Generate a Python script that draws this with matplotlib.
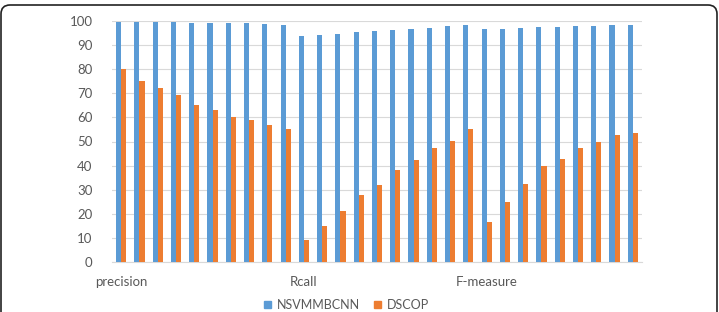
import numpy as np
import matplotlib
matplotlib.use('Agg')
import matplotlib.pyplot as plt
from matplotlib.patches import FancyBboxPatch, Patch
from matplotlib.transforms import IdentityTransform

plt.rcParams['font.family'] = ['Lato', 'DejaVu Sans']

# group labels, only every 10th category gets a label
groups = ['precision', 'Rcall', 'F-measure']
group_start = [0, 10, 20]

nsvmmbcnn = [99.5, 99.5, 99.4, 99.4, 99.3, 99.2, 99.1, 99.0, 98.9, 98.3,
             93.6, 94.1, 94.7, 95.3, 95.8, 96.2, 96.8, 97.3, 97.8, 98.3,
             96.5, 96.8, 97.0, 97.4, 97.5, 97.8, 97.9, 98.2, 98.5]
dscop = [80, 75.2, 72.2, 69.1, 65, 63, 60, 59, 57, 55,
         9, 15, 21, 28, 32, 38, 42.2, 47.2, 50.3, 55.1,
         16.4, 25.1, 32.5, 40, 42.9, 47.5, 49.6, 52.5, 53.5]

blue = '#5B9BD5'
orange = '#ED7D31'
grey = '#595959'

fig = plt.figure(figsize=(7.19, 3.12), dpi=100)
ax = fig.add_axes([112/719, 50/312, 530/719, 241/312])

x = np.arange(len(dscop))
w = 0.28
ax.bar(x - w/2, nsvmmbcnn, w, color=blue, label='NSVMMBCNN', zorder=3)
ax.bar(x + w/2, dscop, w, color=orange, label='DSCOP', zorder=3)

ax.set_xlim(-0.5, len(dscop) - 0.5)
ax.set_ylim(0, 100)
ax.set_yticks(range(0, 101, 10))
ax.yaxis.grid(True, color='#d9d9d9', linewidth=0.8, zorder=0)
ax.set_xticks(group_start)
ax.set_xticklabels(groups)
ax.tick_params(axis='both', length=0, colors=grey, labelsize=9.5)
ax.tick_params(axis='y', pad=14)
ax.tick_params(axis='x', pad=10)
for s in ['top', 'right', 'left']:
    ax.spines[s].set_visible(False)
ax.spines['bottom'].set_color('#d9d9d9')

handles = [Patch(color=blue, label='NSVMMBCNN'), Patch(color=orange, label='DSCOP')]
fig.legend(handles=handles, loc='center', bbox_to_anchor=(0.482, 7/312), ncol=2,
           frameon=False, fontsize=9, handlelength=0.55, handleheight=0.55,
           handletextpad=0.5, columnspacing=1.1, labelcolor=grey,
           borderpad=0, borderaxespad=0)

border = FancyBboxPatch((1, -40), 716, 347, boxstyle='round,pad=0,rounding_size=9',
                        transform=IdentityTransform(), fill=False,
                        edgecolor='#222222', linewidth=1.2)
fig.patches.append(border)

fig.savefig('out.png', dpi=100)
